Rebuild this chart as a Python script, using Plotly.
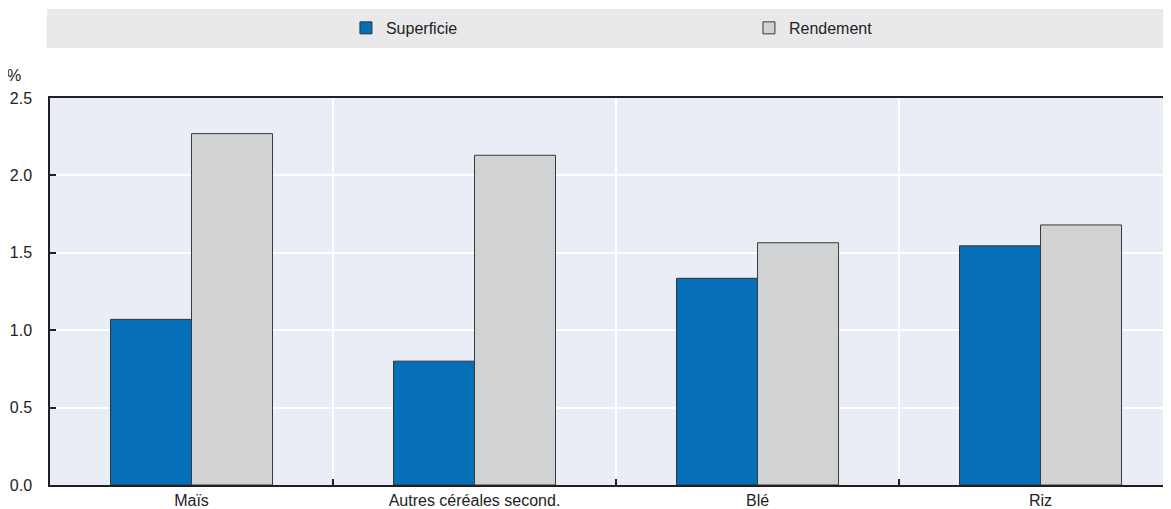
import plotly.graph_objects as go

categories = ["Maïs", "Autres céréales second.", "Blé", "Riz"]
superficie = [1.07, 0.80, 1.335, 1.545]
rendement = [2.27, 2.13, 1.565, 1.68]
y_ticks = [0.0, 0.5, 1.0, 1.5, 2.0, 2.5]

FONT = "Liberation Sans, Arial, sans-serif"

fig = go.Figure()
fig.add_trace(go.Bar(
    x=categories, y=superficie, name="Superficie",
    marker=dict(color="#0570b8", line=dict(color="#333333", width=1)),
))
fig.add_trace(go.Bar(
    x=categories, y=rendement, name="Rendement",
    marker=dict(color="#d1d2d4", line=dict(color="#3a3a3a", width=1)),
))

# the page body has an 8px default margin, so the figure is sized to fit the window
fig.update_layout(
    width=1163, height=501,
    margin=dict(l=42, r=0, t=90, b=24, autoexpand=False),
    paper_bgcolor="white",
    plot_bgcolor="#e9edf5",
    barmode="group",
    bargap=0.4276,
    bargroupgap=0,
    font=dict(family=FONT, size=16, color="#222222"),
    showlegend=True,
    legend=dict(
        orientation="h",
        x=0.264, xanchor="left",
        y=1.181, yanchor="middle",
        entrywidth=358, entrywidthmode="pixels",
        itemwidth=30,
        bgcolor="rgba(0,0,0,0)",
        font=dict(size=16, color="#222222"),
        traceorder="normal",
        itemclick=False, itemdoubleclick=False,
    ),
    shapes=[dict(
        type="rect", xref="paper", yref="paper",
        x0=-0.0027, x1=1.0, y0=1.129, y1=1.23,
        fillcolor="#e9e9eb", line=dict(width=0), layer="below",
    )],
    annotations=[dict(
        text="%", xref="paper", yref="paper",
        x=-0.032, y=1.058, xanchor="center", yanchor="middle",
        showarrow=False, font=dict(size=16, color="#222222"),
    )],
)

fig.update_xaxes(
    type="category",
    range=[-0.5, 3.461],
    tickson="boundaries",
    showgrid=True, gridcolor="white", gridwidth=1.5,
    ticks="inside", ticklen=6, tickcolor="#231f20", tickwidth=1.5,
    showline=True, linecolor="#231f20", linewidth=2, mirror=True,
    tickfont=dict(size=16, color="#222222"),
    automargin=False,
    fixedrange=True,
)
fig.update_yaxes(
    range=[0, 2.5],
    tickvals=y_ticks,
    tickformat=".1f",
    showgrid=True, gridcolor="white", gridwidth=1.5,
    ticks="inside", ticklen=6, tickcolor="#231f20", tickwidth=1.5,
    showline=True, linecolor="#231f20", linewidth=1.5,
    zeroline=False,
    ticklabelstandoff=13,
    tickfont=dict(size=16, color="#222222"),
    automargin=False,
    fixedrange=True,
)

fig.write_html("out.html")
